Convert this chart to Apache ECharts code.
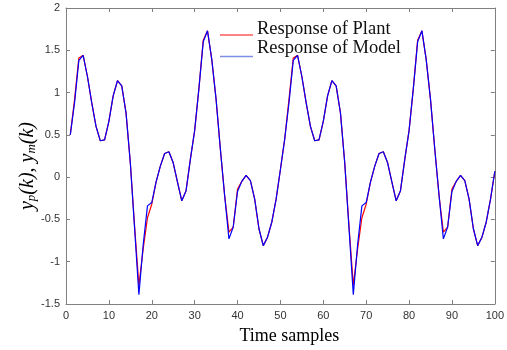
<!DOCTYPE html>
<html>
<head>
<meta charset="utf-8">
<script src="https://cdn.jsdelivr.net/npm/echarts@6/dist/echarts.min.js"></script>
<style>html,body{margin:0;padding:0;background:#fff}#c{width:507px;height:350px}</style>
</head>
<body>
<div id="c"></div>
<script>
const samples = Array.from({length: 100}, (_, i) => i + 1);
const plant = [
 0.50, 0.92, 1.41, 1.44, 1.19, 0.88, 0.60, 0.43, 0.44, 0.66,
 0.96, 1.14, 1.08, 0.76, 0.17, -0.58, -1.28, -0.85, -0.48, -0.32,
 -0.06, 0.13, 0.28, 0.30, 0.17, -0.06, -0.28, -0.16, 0.21, 0.55,
 1.05, 1.62, 1.73, 1.39, 0.92, 0.33, -0.22, -0.65, -0.59, -0.14,
 -0.05, 0.02, -0.04, -0.26, -0.61, -0.81, -0.71, -0.53, -0.26, 0.09,
 0.45, 0.92, 1.41, 1.44, 1.19, 0.88, 0.60, 0.43, 0.44, 0.66,
 0.96, 1.14, 1.08, 0.76, 0.17, -0.58, -1.28, -0.85, -0.48, -0.32,
 -0.06, 0.13, 0.28, 0.30, 0.17, -0.06, -0.28, -0.16, 0.21, 0.55,
 1.05, 1.62, 1.73, 1.39, 0.92, 0.33, -0.22, -0.65, -0.59, -0.14,
 -0.05, 0.02, -0.04, -0.26, -0.61, -0.81, -0.71, -0.53, -0.26, 0.07
];
const model = [
 0.50, 0.88, 1.38, 1.44, 1.19, 0.88, 0.60, 0.43, 0.44, 0.66,
 0.96, 1.14, 1.08, 0.76, 0.17, -0.61, -1.39, -0.80, -0.34, -0.30,
 -0.06, 0.13, 0.28, 0.30, 0.17, -0.06, -0.28, -0.16, 0.21, 0.55,
 1.05, 1.60, 1.73, 1.39, 0.92, 0.33, -0.22, -0.73, -0.59, -0.17,
 -0.05, 0.02, -0.04, -0.26, -0.61, -0.81, -0.71, -0.53, -0.26, 0.09,
 0.45, 0.88, 1.38, 1.44, 1.19, 0.88, 0.60, 0.43, 0.44, 0.66,
 0.96, 1.14, 1.08, 0.76, 0.17, -0.61, -1.39, -0.80, -0.34, -0.30,
 -0.06, 0.13, 0.28, 0.30, 0.17, -0.06, -0.28, -0.16, 0.21, 0.55,
 1.05, 1.60, 1.73, 1.39, 0.92, 0.33, -0.22, -0.73, -0.59, -0.17,
 -0.05, 0.02, -0.04, -0.26, -0.61, -0.81, -0.71, -0.53, -0.26, 0.07
];
const seriesNames = ['Response of Plant', 'Response of Model'];

const axisCol = '#808080';
const tickFont = {fontFamily: 'Liberation Sans', fontSize: 11, color: '#333'};
const chart = echarts.init(document.getElementById('c'), null, {renderer: 'canvas'});
chart.setOption({
  animation: false,
  grid: {left: 66, right: 8, top: 8, bottom: 44, containLabel: false},
  legend: {
    orient: 'vertical', left: 218, top: 20, itemGap: 0, padding: 0,
    itemWidth: 34, itemHeight: 2, icon: 'rect',
    itemStyle: {opacity: 0},
    data: seriesNames,
    textStyle: {fontFamily: 'Liberation Serif', fontSize: 18.5, color: '#111'}
  },
  graphic: [
    {type: 'line', shape: {x1: 220, y1: 35, x2: 253, y2: 35}, style: {stroke: '#ff5a5a', lineWidth: 1.3}},
    {type: 'line', shape: {x1: 220, y1: 56.5, x2: 253, y2: 56.5}, style: {stroke: '#7f8fe8', lineWidth: 1.3}}
  ],
  xAxis: [{
    type: 'value', min: 0, max: 100, interval: 10,
    name: 'Time samples', nameLocation: 'middle', nameGap: 23, nameMoveOverlap: false,
    nameTextStyle: {fontFamily: 'Liberation Serif', fontSize: 18, color: '#000', padding: [0, 0, 0, 18]},
    axisLine: {show: true, onZero: false, lineStyle: {color: axisCol}},
    axisTick: {show: true, inside: true, length: 4, lineStyle: {color: axisCol}},
    axisLabel: Object.assign({margin: 6}, tickFont),
    splitLine: {show: false}
  }, {
    type: 'value', min: 0, max: 100, interval: 10, position: 'top',
    axisLine: {show: true, onZero: false, lineStyle: {color: axisCol}},
    axisTick: {show: true, inside: true, length: 4, lineStyle: {color: axisCol}},
    axisLabel: {show: false}, splitLine: {show: false}
  }],
  yAxis: [{
    type: 'value', min: -1.5, max: 2, interval: 0.5,
    name: '{i|y}{s|p}{i|(k), y}{s|m}{i|(k)}', nameLocation: 'middle', nameGap: 28, nameMoveOverlap: false,
    nameTextStyle: {
      padding: [0, 20, 0, 0],
      rich: {
        i: {fontFamily: 'Liberation Serif', fontStyle: 'italic', fontSize: 20, color: '#000'},
        s: {fontFamily: 'Liberation Serif', fontStyle: 'italic', fontSize: 13, color: '#000', verticalAlign: 'bottom', padding: [8, 0, 0, 0]}
      }
    },
    axisLine: {show: true, onZero: false, lineStyle: {color: axisCol}},
    axisTick: {show: true, inside: true, length: 4, lineStyle: {color: axisCol}},
    axisLabel: Object.assign({margin: 6}, tickFont),
    splitLine: {show: false}
  }, {
    type: 'value', min: -1.5, max: 2, interval: 0.5, position: 'right',
    axisLine: {show: true, onZero: false, lineStyle: {color: axisCol}},
    axisTick: {show: true, inside: true, length: 4, lineStyle: {color: axisCol}},
    axisLabel: {show: false}, splitLine: {show: false}
  }],
  series: [{
    name: seriesNames[0], type: 'line', showSymbol: false, symbol: 'none',
    data: samples.map((k, i) => [k, plant[i]]),
    lineStyle: {color: '#ff0000', width: 1.2}, itemStyle: {color: '#ff0000'}, z: 2
  }, {
    name: seriesNames[1], type: 'line', showSymbol: false, symbol: 'none',
    data: samples.map((k, i) => [k, model[i]]),
    lineStyle: {color: '#0000ff', width: 1.2}, itemStyle: {color: '#7f8fe8'}, z: 3
  }]
});
</script>
</body>
</html>
